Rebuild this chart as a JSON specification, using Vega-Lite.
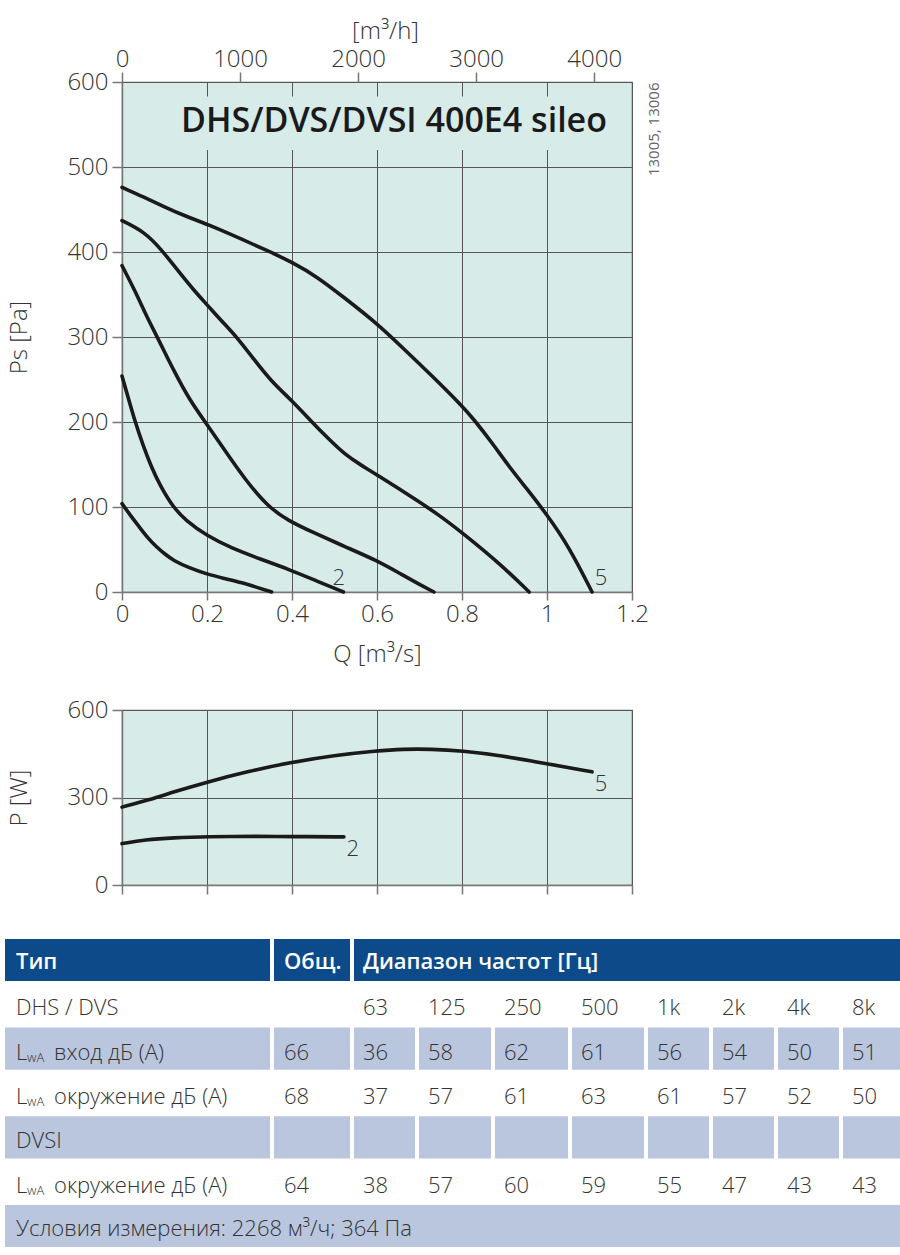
{
  "$schema": "https://vega.github.io/schema/vega-lite/v6.json",
  "background": "white",
  "padding": {"left": 5, "top": 18, "right": 0, "bottom": 0},
  "config": {
    "font": "Open Sans",
    "view": {"stroke": null},
    "axis": {
      "labelFont": "Open Sans", "titleFont": "Open Sans",
      "labelFontSize": 24, "titleFontSize": 24,
      "labelFontWeight": 300, "titleFontWeight": 300,
      "labelColor": "#333333", "titleColor": "#333333",
      "domainColor": "#777777", "domainWidth": 1.5,
      "tickColor": "#777777", "tickWidth": 1.5,
      "gridColor": "#555555", "gridWidth": 1,
      "labelFlush": false, "labelOverlap": false
    },
    "text": {"font": "Open Sans"}
  },
  "datasets": {
    "ps": [
      {"curve": "1", "Q": 0, "Ps": 104}, {"curve": "1", "Q": 0.02, "Ps": 90}, {"curve": "1", "Q": 0.04, "Ps": 77}, {"curve": "1", "Q": 0.06, "Ps": 64}, {"curve": "1", "Q": 0.081, "Ps": 53}, {"curve": "1", "Q": 0.1, "Ps": 45}, {"curve": "1", "Q": 0.121, "Ps": 37}, {"curve": "1", "Q": 0.16, "Ps": 28}, {"curve": "1", "Q": 0.2, "Ps": 21}, {"curve": "1", "Q": 0.24, "Ps": 16}, {"curve": "1", "Q": 0.283, "Ps": 11}, {"curve": "1", "Q": 0.32, "Ps": 5}, {"curve": "1", "Q": 0.352, "Ps": 0},
      {"curve": "2", "Q": 0, "Ps": 254}, {"curve": "2", "Q": 0.015, "Ps": 228}, {"curve": "2", "Q": 0.031, "Ps": 200}, {"curve": "2", "Q": 0.05, "Ps": 172}, {"curve": "2", "Q": 0.07, "Ps": 146}, {"curve": "2", "Q": 0.09, "Ps": 125}, {"curve": "2", "Q": 0.12, "Ps": 100}, {"curve": "2", "Q": 0.15, "Ps": 84}, {"curve": "2", "Q": 0.2, "Ps": 66}, {"curve": "2", "Q": 0.256, "Ps": 52}, {"curve": "2", "Q": 0.324, "Ps": 39}, {"curve": "2", "Q": 0.391, "Ps": 27}, {"curve": "2", "Q": 0.458, "Ps": 13}, {"curve": "2", "Q": 0.521, "Ps": 0},
      {"curve": "3", "Q": 0, "Ps": 384}, {"curve": "3", "Q": 0.03, "Ps": 355}, {"curve": "3", "Q": 0.06, "Ps": 322}, {"curve": "3", "Q": 0.085, "Ps": 298}, {"curve": "3", "Q": 0.12, "Ps": 262}, {"curve": "3", "Q": 0.16, "Ps": 225}, {"curve": "3", "Q": 0.196, "Ps": 200}, {"curve": "3", "Q": 0.24, "Ps": 168}, {"curve": "3", "Q": 0.29, "Ps": 132}, {"curve": "3", "Q": 0.344, "Ps": 100}, {"curve": "3", "Q": 0.391, "Ps": 84}, {"curve": "3", "Q": 0.45, "Ps": 70}, {"curve": "3", "Q": 0.526, "Ps": 53}, {"curve": "3", "Q": 0.6, "Ps": 37}, {"curve": "3", "Q": 0.66, "Ps": 20}, {"curve": "3", "Q": 0.7, "Ps": 9}, {"curve": "3", "Q": 0.734, "Ps": 0},
      {"curve": "4", "Q": 0, "Ps": 437}, {"curve": "4", "Q": 0.052, "Ps": 424}, {"curve": "4", "Q": 0.091, "Ps": 404}, {"curve": "4", "Q": 0.13, "Ps": 379}, {"curve": "4", "Q": 0.169, "Ps": 355}, {"curve": "4", "Q": 0.2, "Ps": 338}, {"curve": "4", "Q": 0.232, "Ps": 320}, {"curve": "4", "Q": 0.27, "Ps": 300}, {"curve": "4", "Q": 0.31, "Ps": 274}, {"curve": "4", "Q": 0.349, "Ps": 249}, {"curve": "4", "Q": 0.4, "Ps": 225}, {"curve": "4", "Q": 0.445, "Ps": 201}, {"curve": "4", "Q": 0.482, "Ps": 182}, {"curve": "4", "Q": 0.526, "Ps": 161}, {"curve": "4", "Q": 0.56, "Ps": 150}, {"curve": "4", "Q": 0.6, "Ps": 138}, {"curve": "4", "Q": 0.687, "Ps": 110}, {"curve": "4", "Q": 0.742, "Ps": 92}, {"curve": "4", "Q": 0.8, "Ps": 70}, {"curve": "4", "Q": 0.89, "Ps": 33}, {"curve": "4", "Q": 0.958, "Ps": 0},
      {"curve": "5", "Q": 0, "Ps": 476}, {"curve": "5", "Q": 0.05, "Ps": 465}, {"curve": "5", "Q": 0.1, "Ps": 453}, {"curve": "5", "Q": 0.15, "Ps": 442}, {"curve": "5", "Q": 0.2, "Ps": 433}, {"curve": "5", "Q": 0.287, "Ps": 414}, {"curve": "5", "Q": 0.349, "Ps": 400}, {"curve": "5", "Q": 0.4, "Ps": 388}, {"curve": "5", "Q": 0.459, "Ps": 371}, {"curve": "5", "Q": 0.521, "Ps": 347}, {"curve": "5", "Q": 0.6, "Ps": 316}, {"curve": "5", "Q": 0.661, "Ps": 287}, {"curve": "5", "Q": 0.728, "Ps": 255}, {"curve": "5", "Q": 0.8, "Ps": 219}, {"curve": "5", "Q": 0.828, "Ps": 203}, {"curve": "5", "Q": 0.87, "Ps": 176}, {"curve": "5", "Q": 0.91, "Ps": 148}, {"curve": "5", "Q": 0.95, "Ps": 123}, {"curve": "5", "Q": 1.0, "Ps": 91}, {"curve": "5", "Q": 1.052, "Ps": 53}, {"curve": "5", "Q": 1.106, "Ps": 0}
    ],
    "psLabels": [
      {"label": "2", "Q": 0.51, "Ps": 16},
      {"label": "5", "Q": 1.127, "Ps": 16}
    ],
    "pw": [
      {"curve": "5", "Q": 0, "P": 267}, {"curve": "5", "Q": 0.067, "P": 293}, {"curve": "5", "Q": 0.121, "P": 319}, {"curve": "5", "Q": 0.2, "P": 353}, {"curve": "5", "Q": 0.297, "P": 390}, {"curve": "5", "Q": 0.4, "P": 421}, {"curve": "5", "Q": 0.499, "P": 444}, {"curve": "5", "Q": 0.6, "P": 460}, {"curve": "5", "Q": 0.661, "P": 466}, {"curve": "5", "Q": 0.728, "P": 466}, {"curve": "5", "Q": 0.8, "P": 460}, {"curve": "5", "Q": 0.89, "P": 444}, {"curve": "5", "Q": 1.0, "P": 416}, {"curve": "5", "Q": 1.106, "P": 388},
      {"curve": "2", "Q": 0, "P": 142}, {"curve": "2", "Q": 0.054, "P": 155}, {"curve": "2", "Q": 0.121, "P": 162}, {"curve": "2", "Q": 0.2, "P": 166}, {"curve": "2", "Q": 0.324, "P": 167}, {"curve": "2", "Q": 0.4, "P": 166}, {"curve": "2", "Q": 0.522, "P": 165}
    ],
    "pwLabels": [
      {"label": "2", "Q": 0.543, "P": 123},
      {"label": "5", "Q": 1.127, "P": 346}
    ],
    "hdr": [
      {"col": "type", "text": "Тип"},
      {"col": "tot", "text": "Общ."},
      {"col": "freq", "text": "Диапазон частот [Гц]"}
    ],
    "tbl": [
      {"row": "dhs", "col": "type", "text": "DHS / DVS"},
      {"row": "dhs", "col": "tot", "text": ""},
      {"row": "dhs", "col": "63", "text": "63"}, {"row": "dhs", "col": "125", "text": "125"}, {"row": "dhs", "col": "250", "text": "250"}, {"row": "dhs", "col": "500", "text": "500"}, {"row": "dhs", "col": "1k", "text": "1k"}, {"row": "dhs", "col": "2k", "text": "2k"}, {"row": "dhs", "col": "4k", "text": "4k"}, {"row": "dhs", "col": "8k", "text": "8k"},
      {"row": "in", "col": "type", "sym": "L", "sub": "wA", "text": "вход дБ (A)"},
      {"row": "in", "col": "tot", "text": "66"},
      {"row": "in", "col": "63", "text": "36"}, {"row": "in", "col": "125", "text": "58"}, {"row": "in", "col": "250", "text": "62"}, {"row": "in", "col": "500", "text": "61"}, {"row": "in", "col": "1k", "text": "56"}, {"row": "in", "col": "2k", "text": "54"}, {"row": "in", "col": "4k", "text": "50"}, {"row": "in", "col": "8k", "text": "51"},
      {"row": "env", "col": "type", "sym": "L", "sub": "wA", "text": "окружение дБ (A)"},
      {"row": "env", "col": "tot", "text": "68"},
      {"row": "env", "col": "63", "text": "37"}, {"row": "env", "col": "125", "text": "57"}, {"row": "env", "col": "250", "text": "61"}, {"row": "env", "col": "500", "text": "63"}, {"row": "env", "col": "1k", "text": "61"}, {"row": "env", "col": "2k", "text": "57"}, {"row": "env", "col": "4k", "text": "52"}, {"row": "env", "col": "8k", "text": "50"},
      {"row": "dvsi", "col": "type", "text": "DVSI"},
      {"row": "dvsi", "col": "tot", "text": ""},
      {"row": "dvsi", "col": "63", "text": ""}, {"row": "dvsi", "col": "125", "text": ""}, {"row": "dvsi", "col": "250", "text": ""}, {"row": "dvsi", "col": "500", "text": ""}, {"row": "dvsi", "col": "1k", "text": ""}, {"row": "dvsi", "col": "2k", "text": ""}, {"row": "dvsi", "col": "4k", "text": ""}, {"row": "dvsi", "col": "8k", "text": ""},
      {"row": "env2", "col": "type", "sym": "L", "sub": "wA", "text": "окружение дБ (A)"},
      {"row": "env2", "col": "tot", "text": "64"},
      {"row": "env2", "col": "63", "text": "38"}, {"row": "env2", "col": "125", "text": "57"}, {"row": "env2", "col": "250", "text": "60"}, {"row": "env2", "col": "500", "text": "59"}, {"row": "env2", "col": "1k", "text": "55"}, {"row": "env2", "col": "2k", "text": "47"}, {"row": "env2", "col": "4k", "text": "43"}, {"row": "env2", "col": "8k", "text": "43"}
    ],
    "cond": [
      {"row": "cond", "col": "all", "text": "Условия измерения: 2268 м³/ч; 364 Па"}
    ]
  },
  "spacing": 41,
  "vconcat": [
    {
      "spacing": 0,
      "hconcat": [
        {
          "width": 1,
          "height": 1,
          "data": {"values": []},
          "mark": "point"
        },
        {
          "spacing": 30,
          "vconcat": [
            {
              "width": 510,
              "height": 510,
              "view": {"fill": "#d7ebe9", "stroke": "#666666", "strokeWidth": 1.2},
              "layer": [
                {
                  "layer": [
                    {
                      "data": {"values": [{}]},
                      "mark": {"type": "rect", "color": "#d7ebe9"},
                      "encoding": {
                        "x": {"datum": 0.145, "type": "quantitative", "scale": {"domain": [0, 1.2], "nice": false}, "axis": null},
                        "x2": {"datum": 1.19},
                        "y": {"datum": 520, "type": "quantitative", "scale": {"domain": [0, 600], "nice": false}, "axis": null},
                        "y2": {"datum": 583}
                      }
                    },
                    {
                      "data": {"name": "ps"},
                      "mark": {"type": "line", "interpolate": "basis", "strokeWidth": 3.6, "color": "#1a1a1a", "strokeCap": "round"},
                      "encoding": {
                        "x": {"field": "Q", "type": "quantitative", "scale": {"domain": [0, 1.2], "nice": false},
                          "axis": {"values": [0, 0.2, 0.4, 0.6, 0.8, 1, 1.2], "format": "~g", "title": "Q [m³/s]", "tickSize": 8, "labelPadding": 2, "titlePadding": 16, "grid": true}},
                        "y": {"field": "Ps", "type": "quantitative", "scale": {"domain": [0, 600], "nice": false},
                          "axis": {"values": [0, 100, 200, 300, 400, 500, 600], "title": "Ps [Pa]", "tickSize": 10, "labelPadding": 4, "minExtent": 55, "maxExtent": 55, "titlePadding": 36, "grid": true}},
                        "detail": {"field": "curve", "type": "nominal"}
                      }
                    },
                    {
                      "data": {"name": "psLabels"},
                      "mark": {"type": "text", "fontSize": 22, "fontWeight": 300, "color": "#333333"},
                      "encoding": {
                        "x": {"field": "Q", "type": "quantitative", "scale": {"domain": [0, 1.2], "nice": false}, "axis": null},
                        "y": {"field": "Ps", "type": "quantitative", "scale": {"domain": [0, 600], "nice": false},
                          "axis": {"orient": "right", "title": "13005, 13006", "labels": false, "ticks": false, "domain": false, "grid": false, "titleAngle": 270, "titleAnchor": "end", "titleAlign": "right", "titleBaseline": "top", "titleFontSize": 15, "titleFontWeight": 400, "titleColor": "#666666", "titlePadding": 14, "minExtent": 0, "maxExtent": 0}},
                        "text": {"field": "label"}
                      }
                    },
                    {
                      "data": {"values": [{"t": "DHS/DVS/DVSI 400E4 sileo"}]},
                      "mark": {"type": "text", "fontSize": 34, "fontWeight": 600, "color": "#1a1a1a", "align": "center", "baseline": "middle"},
                      "encoding": {
                        "x": {"datum": 0.64, "type": "quantitative", "scale": {"domain": [0, 1.2], "nice": false}, "axis": null},
                        "y": {"datum": 553, "type": "quantitative", "scale": {"domain": [0, 600], "nice": false}, "axis": null},
                        "text": {"field": "t"}
                      }
                    }
                  ],
                  "resolve": {"axis": {"x": "independent", "y": "independent"}}
                },
                {
                  "data": {"values": [{}]},
                  "mark": {"type": "point", "opacity": 0},
                  "encoding": {
                    "x": {"datum": 0, "type": "quantitative", "scale": {"domain": [0, 4320], "nice": false},
                      "axis": {"orient": "top", "values": [0, 1000, 2000, 3000, 4000], "format": "d", "title": "[m³/h]", "titleX": 263, "tickSize": 10, "labelPadding": 1, "titlePadding": 4, "grid": false, "domain": false}}
                  }
                }
              ],
              "resolve": {"scale": {"x": "independent"}, "axis": {"x": "independent", "y": "independent"}}
            },
            {
              "width": 510,
              "height": 175,
              "view": {"fill": "#d7ebe9", "stroke": "#666666", "strokeWidth": 1.2},
              "layer": [
                {
                  "data": {"name": "pw"},
                  "mark": {"type": "line", "interpolate": "basis", "strokeWidth": 3.6, "color": "#1a1a1a", "strokeCap": "round"},
                  "encoding": {
                    "x": {"field": "Q", "type": "quantitative", "scale": {"domain": [0, 1.2], "nice": false},
                      "axis": {"values": [0, 0.2, 0.4, 0.6, 0.8, 1, 1.2], "labels": false, "title": null, "tickSize": 9, "grid": true}},
                    "y": {"field": "P", "type": "quantitative", "scale": {"domain": [0, 600], "nice": false},
                      "axis": {"values": [0, 300, 600], "title": "P [W]", "tickSize": 10, "labelPadding": 4, "minExtent": 55, "maxExtent": 55, "titlePadding": 36, "grid": true}},
                    "detail": {"field": "curve", "type": "nominal"}
                  }
                },
                {
                  "data": {"name": "pwLabels"},
                  "mark": {"type": "text", "fontSize": 22, "fontWeight": 300, "color": "#333333"},
                  "encoding": {
                    "x": {"field": "Q", "type": "quantitative", "scale": {"domain": [0, 1.2], "nice": false}, "axis": null},
                    "y": {"field": "P", "type": "quantitative", "scale": {"domain": [0, 600], "nice": false}, "axis": null},
                    "text": {"field": "label"}
                  }
                }
              ],
              "resolve": {"axis": {"x": "independent", "y": "independent"}}
            }
          ]
        }
      ]
    },
    {
      "spacing": 2,
      "vconcat": [
        {
          "spacing": 4,
          "hconcat": [
            {"width": 265, "height": 42, "data": {"name": "hdr"}, "transform": [{"filter": "datum.col === 'type'"}],
             "encoding": {"x": {"field": "col", "type": "nominal", "scale": {"paddingInner": 0, "paddingOuter": 0}, "axis": null}},
             "layer": [
               {"mark": {"type": "rect", "color": "#0d4a8a"}},
               {"mark": {"type": "text", "align": "left", "baseline": "middle", "dx": 11, "dy": 2, "fontSize": 22, "fontWeight": 600, "color": "#ffffff"}, "encoding": {"x": {"field": "col", "type": "nominal", "bandPosition": 0}, "text": {"field": "text"}}}
             ]},
            {"width": 76, "height": 42, "data": {"name": "hdr"}, "transform": [{"filter": "datum.col === 'tot'"}],
             "encoding": {"x": {"field": "col", "type": "nominal", "scale": {"paddingInner": 0, "paddingOuter": 0}, "axis": null}},
             "layer": [
               {"mark": {"type": "rect", "color": "#0d4a8a"}},
               {"mark": {"type": "text", "align": "left", "baseline": "middle", "dx": 10, "dy": 2, "fontSize": 22, "fontWeight": 600, "color": "#ffffff"}, "encoding": {"x": {"field": "col", "type": "nominal", "bandPosition": 0}, "text": {"field": "text"}}}
             ]},
            {"width": 546, "height": 42, "data": {"name": "hdr"}, "transform": [{"filter": "datum.col === 'freq'"}],
             "encoding": {"x": {"field": "col", "type": "nominal", "scale": {"paddingInner": 0, "paddingOuter": 0}, "axis": null}},
             "layer": [
               {"mark": {"type": "rect", "color": "#0d4a8a"}},
               {"mark": {"type": "text", "align": "left", "baseline": "middle", "dx": 9, "dy": 2, "fontSize": 22, "fontWeight": 600, "color": "#ffffff"}, "encoding": {"x": {"field": "col", "type": "nominal", "bandPosition": 0}, "text": {"field": "text"}}}
             ]}
          ]
        },
        {
          "spacing": 4,
          "hconcat": [
            {
              "width": 265,
              "height": 220,
              "data": {"name": "tbl"},
              "transform": [{"filter": "datum.col === 'type'"}],
              "encoding": {
                "y": {"field": "row", "type": "nominal", "scale": {"domain": ["dhs", "in", "env", "dvsi", "env2"], "paddingInner": 0.05, "paddingOuter": 0}, "axis": null},
                "x": {"field": "col", "type": "nominal", "scale": {"paddingInner": 0, "paddingOuter": 0}, "axis": null}
              },
              "layer": [
                {"mark": {"type": "rect"}, "encoding": {"fill": {"field": "row", "type": "nominal", "scale": {"domain": ["dhs", "in", "env", "dvsi", "env2"], "range": ["#ffffff", "#b9c6de", "#ffffff", "#b9c6de", "#ffffff"]}, "legend": null}}},
                {"transform": [{"filter": "!datum.sym"}], "mark": {"type": "text", "align": "left", "baseline": "middle", "dx": 11, "dy": 4, "fontSize": 22, "fontWeight": 300, "color": "#333333"}, "encoding": {"x": {"field": "col", "type": "nominal", "bandPosition": 0}, "text": {"field": "text"}}},
                {"transform": [{"filter": "datum.sym"}], "mark": {"type": "text", "align": "left", "baseline": "middle", "dx": 11, "dy": 4, "fontSize": 22, "fontWeight": 300, "color": "#333333"}, "encoding": {"x": {"field": "col", "type": "nominal", "bandPosition": 0}, "text": {"field": "sym"}}},
                {"transform": [{"filter": "datum.sym"}], "mark": {"type": "text", "align": "left", "baseline": "middle", "dx": 22, "dy": 9, "fontSize": 13, "fontWeight": 300, "color": "#333333"}, "encoding": {"x": {"field": "col", "type": "nominal", "bandPosition": 0}, "text": {"field": "sub"}}},
                {"transform": [{"filter": "datum.sym"}], "mark": {"type": "text", "align": "left", "baseline": "middle", "dx": 49, "dy": 4, "fontSize": 22, "fontWeight": 300, "color": "#333333"}, "encoding": {"x": {"field": "col", "type": "nominal", "bandPosition": 0}, "text": {"field": "text"}}}
              ]
            },
            {
              "width": 76, "height": 220, "data": {"name": "tbl"}, "transform": [{"filter": "datum.col === 'tot'"}],
              "encoding": {"y": {"field": "row", "type": "nominal", "scale": {"domain": ["dhs", "in", "env", "dvsi", "env2"], "paddingInner": 0.05, "paddingOuter": 0}, "axis": null}, "x": {"field": "col", "type": "nominal", "scale": {"paddingInner": 0, "paddingOuter": 0}, "axis": null}},
              "layer": [
                {"mark": {"type": "rect"}, "encoding": {"fill": {"field": "row", "type": "nominal", "scale": {"domain": ["dhs", "in", "env", "dvsi", "env2"], "range": ["#ffffff", "#b9c6de", "#ffffff", "#b9c6de", "#ffffff"]}, "legend": null}}},
                {"mark": {"type": "text", "align": "left", "baseline": "middle", "dx": 10, "dy": 4, "fontSize": 22, "fontWeight": 300, "color": "#333333"}, "encoding": {"x": {"field": "col", "type": "nominal", "bandPosition": 0}, "text": {"field": "text"}}}
              ]
            },
            {
              "width": 61, "height": 220, "data": {"name": "tbl"}, "transform": [{"filter": "datum.col === '63'"}],
              "encoding": {"y": {"field": "row", "type": "nominal", "scale": {"domain": ["dhs", "in", "env", "dvsi", "env2"], "paddingInner": 0.05, "paddingOuter": 0}, "axis": null}, "x": {"field": "col", "type": "nominal", "scale": {"paddingInner": 0, "paddingOuter": 0}, "axis": null}},
              "layer": [
                {"mark": {"type": "rect"}, "encoding": {"fill": {"field": "row", "type": "nominal", "scale": {"domain": ["dhs", "in", "env", "dvsi", "env2"], "range": ["#ffffff", "#b9c6de", "#ffffff", "#b9c6de", "#ffffff"]}, "legend": null}}},
                {"mark": {"type": "text", "align": "left", "baseline": "middle", "dx": 9, "dy": 4, "fontSize": 22, "fontWeight": 300, "color": "#333333"}, "encoding": {"x": {"field": "col", "type": "nominal", "bandPosition": 0}, "text": {"field": "text"}}}
              ]
            },
            {
              "width": 72, "height": 220, "data": {"name": "tbl"}, "transform": [{"filter": "datum.col === '125'"}],
              "encoding": {"y": {"field": "row", "type": "nominal", "scale": {"domain": ["dhs", "in", "env", "dvsi", "env2"], "paddingInner": 0.05, "paddingOuter": 0}, "axis": null}, "x": {"field": "col", "type": "nominal", "scale": {"paddingInner": 0, "paddingOuter": 0}, "axis": null}},
              "layer": [
                {"mark": {"type": "rect"}, "encoding": {"fill": {"field": "row", "type": "nominal", "scale": {"domain": ["dhs", "in", "env", "dvsi", "env2"], "range": ["#ffffff", "#b9c6de", "#ffffff", "#b9c6de", "#ffffff"]}, "legend": null}}},
                {"mark": {"type": "text", "align": "left", "baseline": "middle", "dx": 9, "dy": 4, "fontSize": 22, "fontWeight": 300, "color": "#333333"}, "encoding": {"x": {"field": "col", "type": "nominal", "bandPosition": 0}, "text": {"field": "text"}}}
              ]
            },
            {
              "width": 73, "height": 220, "data": {"name": "tbl"}, "transform": [{"filter": "datum.col === '250'"}],
              "encoding": {"y": {"field": "row", "type": "nominal", "scale": {"domain": ["dhs", "in", "env", "dvsi", "env2"], "paddingInner": 0.05, "paddingOuter": 0}, "axis": null}, "x": {"field": "col", "type": "nominal", "scale": {"paddingInner": 0, "paddingOuter": 0}, "axis": null}},
              "layer": [
                {"mark": {"type": "rect"}, "encoding": {"fill": {"field": "row", "type": "nominal", "scale": {"domain": ["dhs", "in", "env", "dvsi", "env2"], "range": ["#ffffff", "#b9c6de", "#ffffff", "#b9c6de", "#ffffff"]}, "legend": null}}},
                {"mark": {"type": "text", "align": "left", "baseline": "middle", "dx": 9, "dy": 4, "fontSize": 22, "fontWeight": 300, "color": "#333333"}, "encoding": {"x": {"field": "col", "type": "nominal", "bandPosition": 0}, "text": {"field": "text"}}}
              ]
            },
            {
              "width": 72, "height": 220, "data": {"name": "tbl"}, "transform": [{"filter": "datum.col === '500'"}],
              "encoding": {"y": {"field": "row", "type": "nominal", "scale": {"domain": ["dhs", "in", "env", "dvsi", "env2"], "paddingInner": 0.05, "paddingOuter": 0}, "axis": null}, "x": {"field": "col", "type": "nominal", "scale": {"paddingInner": 0, "paddingOuter": 0}, "axis": null}},
              "layer": [
                {"mark": {"type": "rect"}, "encoding": {"fill": {"field": "row", "type": "nominal", "scale": {"domain": ["dhs", "in", "env", "dvsi", "env2"], "range": ["#ffffff", "#b9c6de", "#ffffff", "#b9c6de", "#ffffff"]}, "legend": null}}},
                {"mark": {"type": "text", "align": "left", "baseline": "middle", "dx": 9, "dy": 4, "fontSize": 22, "fontWeight": 300, "color": "#333333"}, "encoding": {"x": {"field": "col", "type": "nominal", "bandPosition": 0}, "text": {"field": "text"}}}
              ]
            },
            {
              "width": 61, "height": 220, "data": {"name": "tbl"}, "transform": [{"filter": "datum.col === '1k'"}],
              "encoding": {"y": {"field": "row", "type": "nominal", "scale": {"domain": ["dhs", "in", "env", "dvsi", "env2"], "paddingInner": 0.05, "paddingOuter": 0}, "axis": null}, "x": {"field": "col", "type": "nominal", "scale": {"paddingInner": 0, "paddingOuter": 0}, "axis": null}},
              "layer": [
                {"mark": {"type": "rect"}, "encoding": {"fill": {"field": "row", "type": "nominal", "scale": {"domain": ["dhs", "in", "env", "dvsi", "env2"], "range": ["#ffffff", "#b9c6de", "#ffffff", "#b9c6de", "#ffffff"]}, "legend": null}}},
                {"mark": {"type": "text", "align": "left", "baseline": "middle", "dx": 9, "dy": 4, "fontSize": 22, "fontWeight": 300, "color": "#333333"}, "encoding": {"x": {"field": "col", "type": "nominal", "bandPosition": 0}, "text": {"field": "text"}}}
              ]
            },
            {
              "width": 61, "height": 220, "data": {"name": "tbl"}, "transform": [{"filter": "datum.col === '2k'"}],
              "encoding": {"y": {"field": "row", "type": "nominal", "scale": {"domain": ["dhs", "in", "env", "dvsi", "env2"], "paddingInner": 0.05, "paddingOuter": 0}, "axis": null}, "x": {"field": "col", "type": "nominal", "scale": {"paddingInner": 0, "paddingOuter": 0}, "axis": null}},
              "layer": [
                {"mark": {"type": "rect"}, "encoding": {"fill": {"field": "row", "type": "nominal", "scale": {"domain": ["dhs", "in", "env", "dvsi", "env2"], "range": ["#ffffff", "#b9c6de", "#ffffff", "#b9c6de", "#ffffff"]}, "legend": null}}},
                {"mark": {"type": "text", "align": "left", "baseline": "middle", "dx": 9, "dy": 4, "fontSize": 22, "fontWeight": 300, "color": "#333333"}, "encoding": {"x": {"field": "col", "type": "nominal", "bandPosition": 0}, "text": {"field": "text"}}}
              ]
            },
            {
              "width": 61, "height": 220, "data": {"name": "tbl"}, "transform": [{"filter": "datum.col === '4k'"}],
              "encoding": {"y": {"field": "row", "type": "nominal", "scale": {"domain": ["dhs", "in", "env", "dvsi", "env2"], "paddingInner": 0.05, "paddingOuter": 0}, "axis": null}, "x": {"field": "col", "type": "nominal", "scale": {"paddingInner": 0, "paddingOuter": 0}, "axis": null}},
              "layer": [
                {"mark": {"type": "rect"}, "encoding": {"fill": {"field": "row", "type": "nominal", "scale": {"domain": ["dhs", "in", "env", "dvsi", "env2"], "range": ["#ffffff", "#b9c6de", "#ffffff", "#b9c6de", "#ffffff"]}, "legend": null}}},
                {"mark": {"type": "text", "align": "left", "baseline": "middle", "dx": 9, "dy": 4, "fontSize": 22, "fontWeight": 300, "color": "#333333"}, "encoding": {"x": {"field": "col", "type": "nominal", "bandPosition": 0}, "text": {"field": "text"}}}
              ]
            },
            {
              "width": 57, "height": 220, "data": {"name": "tbl"}, "transform": [{"filter": "datum.col === '8k'"}],
              "encoding": {"y": {"field": "row", "type": "nominal", "scale": {"domain": ["dhs", "in", "env", "dvsi", "env2"], "paddingInner": 0.05, "paddingOuter": 0}, "axis": null}, "x": {"field": "col", "type": "nominal", "scale": {"paddingInner": 0, "paddingOuter": 0}, "axis": null}},
              "layer": [
                {"mark": {"type": "rect"}, "encoding": {"fill": {"field": "row", "type": "nominal", "scale": {"domain": ["dhs", "in", "env", "dvsi", "env2"], "range": ["#ffffff", "#b9c6de", "#ffffff", "#b9c6de", "#ffffff"]}, "legend": null}}},
                {"mark": {"type": "text", "align": "left", "baseline": "middle", "dx": 9, "dy": 4, "fontSize": 22, "fontWeight": 300, "color": "#333333"}, "encoding": {"x": {"field": "col", "type": "nominal", "bandPosition": 0}, "text": {"field": "text"}}}
              ]
            }
          ]
        },
        {
          "width": 895,
          "height": 42,
          "data": {"name": "cond"},
          "encoding": {
            "y": {"field": "row", "type": "nominal", "scale": {"paddingInner": 0, "paddingOuter": 0}, "axis": null},
            "x": {"field": "col", "type": "nominal", "scale": {"paddingInner": 0, "paddingOuter": 0}, "axis": null}
          },
          "layer": [
            {"mark": {"type": "rect", "color": "#b9c6de"}},
            {
              "mark": {"type": "text", "align": "left", "baseline": "middle", "dx": 11, "dy": 3, "fontSize": 22, "fontWeight": 300, "color": "#333333"},
              "encoding": {"x": {"field": "col", "type": "nominal", "bandPosition": 0}, "text": {"field": "text"}}
            }
          ]
        }
      ]
    }
  ]
}
